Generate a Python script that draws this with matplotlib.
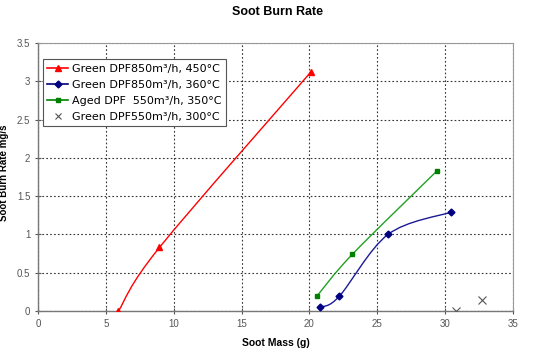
import numpy as np
import matplotlib
matplotlib.use("Agg")
import matplotlib.pyplot as plt
from matplotlib.path import Path
from matplotlib.patches import PathPatch

# Data
red_x = [5.93, 8.95, 20.1]
red_y = [0.0, 0.83, 3.12]
blue_x = [20.81, 22.19, 25.79, 30.42]
blue_y = [0.05, 0.19, 1.00, 1.29]
green_x = [20.53, 23.16, 29.40]
green_y = [0.19, 0.74, 1.83]
gray_x = [30.81, 32.72]
gray_y = [0.0, 0.14]

labels = ["Green DPF850m³/h, 450°C", "Green DPF850m³/h, 360°C",
          "Aged DPF  550m³/h, 350°C", "Green DPF550m³/h, 300°C"]

plt.rcParams['font.family'] = ['Liberation Sans', 'DejaVu Sans']

fig = plt.figure(figsize=(5.5, 3.52), dpi=100)
ax = fig.add_axes([38/550, 1-311/352, (513-38)/550, (311-43)/352])


def smooth_path(xs, ys, t=0.5):
    # Excel-like smoothed line: cubic Bezier segments (Catmull-Rom style)
    pts = np.column_stack([xs, ys]).astype(float)
    n = len(pts)
    verts = [pts[0]]
    codes = [Path.MOVETO]
    for i in range(n - 1):
        p0 = pts[i - 1] if i > 0 else pts[i]
        p1 = pts[i]
        p2 = pts[i + 1]
        p3 = pts[i + 2] if i + 2 < n else pts[i + 1]
        c1 = p1 + (p2 - p0) * t / 3
        c2 = p2 - (p3 - p1) * t / 3
        verts += [c1, c2, p2]
        codes += [Path.CURVE4] * 3
    return Path(verts, codes)


series = [
    (red_x, red_y, '#FF0000', '#FF0000', '^', 4.5),
    (blue_x, blue_y, '#1a1a99', '#000080', 'D', 3.5),
    (green_x, green_y, '#22a022', '#008000', 's', 3.5),
]
for xs, ys, lc, mc, mk, ms in series:
    ax.add_patch(PathPatch(smooth_path(xs, ys), facecolor='none',
                           edgecolor=lc, lw=1.0, zorder=3))
    ax.plot(xs, ys, linestyle='none', marker=mk, color=mc, ms=ms, zorder=4)

ax.plot(gray_x, gray_y, linestyle='none', marker='x', color='#555555',
        ms=6, mew=0.8, zorder=4)

# legend handles
handles = [
    plt.Line2D([], [], color='#FF0000', marker='^', ms=4.5, lw=1.2),
    plt.Line2D([], [], color='#000080', marker='D', ms=3.5, lw=1.2),
    plt.Line2D([], [], color='#008000', marker='s', ms=3.5, lw=1.2),
    plt.Line2D([], [], color='#555555', marker='x', ms=5, lw=0, mew=0.8),
]
leg = ax.legend(handles, labels, loc='upper left', bbox_to_anchor=(0.01, 0.94),
                prop={'family': 'DejaVu Sans', 'size': 8}, frameon=True,
                fancybox=False, edgecolor='#555555', framealpha=1,
                handlelength=1.9, handletextpad=0.3, borderpad=0.4,
                labelspacing=0.55, borderaxespad=0)
leg.get_frame().set_linewidth(0.8)

ax.set_xlim(0, 35)
ax.set_ylim(0, 3.5)
ax.set_xticks(np.arange(0, 36, 5))
ax.set_yticks(np.arange(0, 3.51, 0.5))
ax.set_yticklabels(['0', '0.5', '1', '1.5', '2', '2.5', '3', '3.5'])
ax.grid(True, linestyle=(0, (1.5, 2)), color='#333333', lw=0.8)
ax.set_axisbelow(True)
ax.tick_params(axis='both', labelsize=7, colors='#555555', direction='inout',
               length=4, width=0.8, labelcolor='#555555')
for s in ['left', 'bottom']:
    ax.spines[s].set_color('#777777')
    ax.spines[s].set_linewidth(1.0)
for s in ['top', 'right']:
    ax.spines[s].set_color('#999999')
    ax.spines[s].set_linewidth(0.8)

ax.set_xlabel('Soot Mass (g)', fontsize=7.5, fontweight='bold', labelpad=7)
ax.set_ylabel('Soot Burn Rate mg/s', fontsize=7, fontweight='bold')
ax.yaxis.set_label_coords(-0.062, 0.515)
fig.text(0.505, 0.965, 'Soot Burn Rate', ha='center', va='center',
         fontsize=9, fontweight='bold')

fig.savefig('out.png', dpi=100)
